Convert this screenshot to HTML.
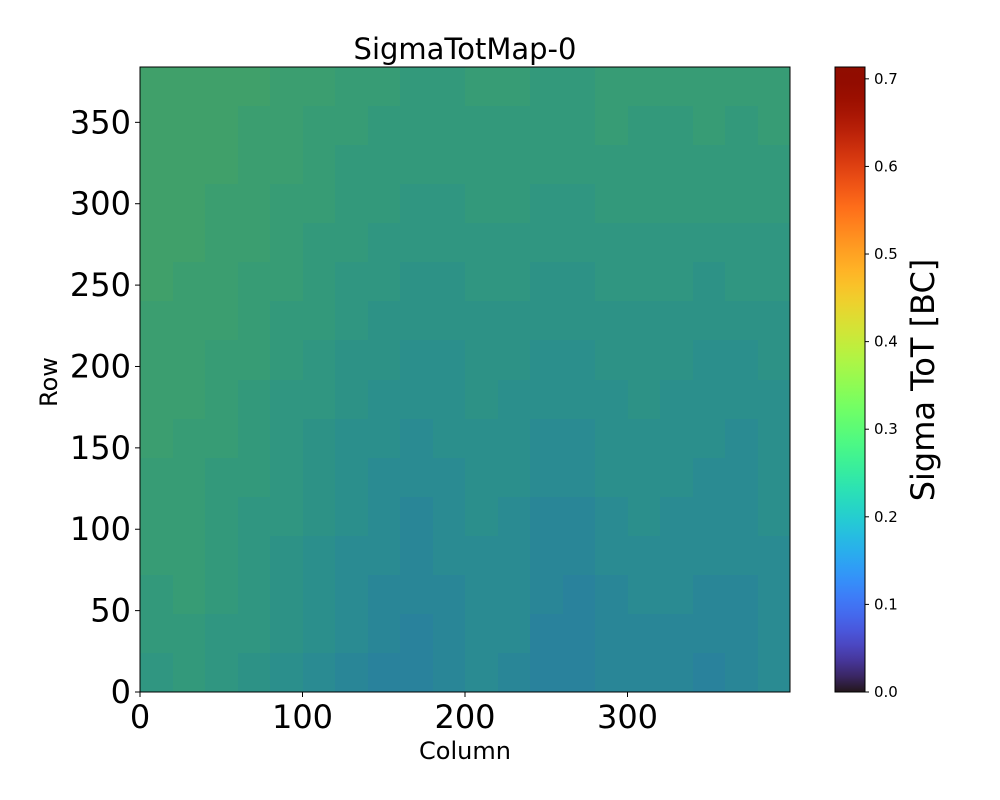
<!DOCTYPE html>
<html><head><meta charset="utf-8"><style>
html,body{margin:0;padding:0;background:#fff;width:1000px;height:800px;overflow:hidden;font-family:"DejaVu Sans","Liberation Sans",sans-serif}
svg text{font-family:"DejaVu Sans","Liberation Sans",sans-serif}
</style></head><body>
<svg id="fig" width="1000" height="800" xmlns="http://www.w3.org/2000/svg"></svg>
<script>
// Estimated block-average Sigma ToT values: 16 row-blocks (bottom->top) x 20 column-blocks
const blockCols = 20, blockRows = 16;
const blockValues = [
[0.24,0.25,0.24,0.23,0.22,0.21,0.20,0.19,0.19,0.20,0.21,0.20,0.19,0.19,0.20,0.20,0.20,0.19,0.20,0.21],
[0.25,0.25,0.24,0.24,0.23,0.22,0.21,0.20,0.19,0.20,0.21,0.21,0.19,0.19,0.20,0.20,0.20,0.20,0.20,0.21],
[0.25,0.26,0.25,0.24,0.23,0.22,0.21,0.20,0.20,0.20,0.21,0.21,0.20,0.19,0.20,0.21,0.21,0.20,0.20,0.21],
[0.26,0.26,0.25,0.24,0.23,0.22,0.21,0.21,0.20,0.21,0.21,0.21,0.20,0.20,0.21,0.21,0.21,0.21,0.21,0.21],
[0.26,0.26,0.25,0.24,0.24,0.23,0.22,0.21,0.20,0.21,0.22,0.21,0.20,0.20,0.21,0.22,0.21,0.21,0.21,0.22],
[0.26,0.26,0.25,0.25,0.24,0.23,0.22,0.21,0.21,0.21,0.22,0.22,0.21,0.21,0.22,0.22,0.22,0.21,0.21,0.22],
[0.27,0.26,0.26,0.25,0.24,0.23,0.22,0.22,0.21,0.22,0.22,0.22,0.21,0.21,0.22,0.22,0.22,0.22,0.21,0.22],
[0.27,0.27,0.26,0.25,0.24,0.24,0.23,0.22,0.22,0.22,0.23,0.22,0.22,0.22,0.22,0.23,0.22,0.22,0.22,0.22],
[0.27,0.27,0.26,0.26,0.25,0.24,0.23,0.23,0.22,0.22,0.23,0.23,0.22,0.22,0.23,0.23,0.23,0.22,0.22,0.23],
[0.27,0.27,0.27,0.26,0.25,0.25,0.24,0.23,0.23,0.23,0.23,0.23,0.23,0.23,0.23,0.23,0.23,0.23,0.23,0.23],
[0.28,0.27,0.27,0.26,0.26,0.25,0.24,0.24,0.23,0.23,0.24,0.24,0.23,0.23,0.24,0.24,0.24,0.23,0.24,0.24],
[0.28,0.28,0.27,0.27,0.26,0.25,0.25,0.24,0.24,0.24,0.24,0.24,0.24,0.24,0.24,0.24,0.24,0.24,0.24,0.24],
[0.28,0.28,0.27,0.27,0.26,0.26,0.25,0.25,0.24,0.24,0.25,0.25,0.24,0.24,0.25,0.25,0.25,0.25,0.25,0.25],
[0.28,0.28,0.28,0.27,0.27,0.26,0.25,0.25,0.25,0.25,0.25,0.25,0.25,0.25,0.25,0.25,0.25,0.25,0.25,0.25],
[0.28,0.28,0.28,0.27,0.27,0.26,0.26,0.25,0.25,0.25,0.25,0.25,0.25,0.25,0.26,0.25,0.25,0.26,0.25,0.26],
[0.28,0.28,0.28,0.28,0.27,0.27,0.26,0.26,0.25,0.25,0.26,0.26,0.25,0.25,0.26,0.26,0.26,0.26,0.26,0.26]
];
const xTicks = [0,100,200,300];
const yTicks = [0,50,100,150,200,250,300,350];
const cbTicks = [0.0,0.1,0.2,0.3,0.4,0.5,0.6,0.7];
const nCols = 400, nRows = 384, vMax = 0.7135;

const NS = "http://www.w3.org/2000/svg";
const svg = document.getElementById('fig');
const P = {l:140, r:790, t:67, b:692};
const CB = {l:835, r:865};
const xs = c => P.l + c/nCols*(P.r-P.l);
const ys = r => P.b - r/nRows*(P.b-P.t);
const cs = v => P.b - v/vMax*(P.b-P.t);
function el(tag, attrs, parent){const e=document.createElementNS(NS,tag);for(const k in attrs)e.setAttribute(k,attrs[k]);(parent||svg).appendChild(e);return e;}
function turboRGB(x){x=Math.max(0,Math.min(1,x));
 const r=0.13572138+x*(4.61539260+x*(-42.66032258+x*(132.13108234+x*(-152.94239396+x*59.28637943))));
 const g=0.09140261+x*(2.19418839+x*(4.84296658+x*(-14.18503333+x*(4.27729857+x*2.82956604))));
 const b=0.10667330+x*(12.64194608+x*(-60.58204836+x*(110.36276771+x*(-89.90310912+x*27.34824973))));
 return [r,g,b].map(v=>Math.max(0,Math.min(1,v))*255);}
function turbo(x){const c=turboRGB(x).map(Math.round);return `rgb(${c[0]},${c[1]},${c[2]})`;}
function muted(x){const c=turboRGB(x), base=[48,18,59], a=0.62;
 const m=c.map((v,i)=>Math.round(v*a+base[i]*(1-a)));return `rgb(${m[0]},${m[1]},${m[2]})`;}

const hm = el('g',{'shape-rendering':'crispEdges'});


const cw = nCols/blockCols, rh = nRows/blockRows;
blockValues.forEach((row,ri)=>row.forEach((v,ci)=>{
  const x0=Math.round(xs(ci*cw)), x1=Math.round(xs((ci+1)*cw)), y1=Math.round(ys(ri*rh)), y0=Math.round(ys((ri+1)*rh));
  const r = el('rect',{x:x0,y:y0,width:x1-x0,height:y1-y0,fill:muted(v/vMax)},hm);
  
  
}));
const frame = el('rect',{x:P.l,y:P.t,width:P.r-P.l,height:P.b-P.t,fill:'none',stroke:'#000','stroke-width':1});



xTicks.forEach(t=>{const x=xs(t);
  el('line',{x1:x,x2:x,y1:P.b,y2:P.b+5,stroke:'#000'});
  const tx=el('text',{x:x,y:P.b+36,'font-size':32,'text-anchor':'middle'});tx.textContent=t;
  
  
});
yTicks.forEach(t=>{const y=ys(t);
  el('line',{x1:P.l-5,x2:P.l,y1:y,y2:y,stroke:'#000'});
  const tx=el('text',{x:P.l-9,y:y+11,'font-size':32,'text-anchor':'end'});tx.textContent=t;
  
  
});
let t;
t=el('text',{x:465,y:759,'font-size':24,'text-anchor':'middle'});t.textContent='Column';


t=el('text',{x:57,y:382,'font-size':24,'text-anchor':'middle',transform:'rotate(-90 57 382)'});t.textContent='Row';


t=el('text',{x:465,y:59,'font-size':29,'text-anchor':'middle'});t.textContent='SigmaTotMap-0';



const defs=el('defs',{});
const grad=el('linearGradient',{id:'cbg',x1:0,y1:1,x2:0,y2:0},defs);
for(let i=0;i<=40;i++){el('stop',{offset:(i/40),'stop-color':turbo(i/40)},grad);}
const cb=el('rect',{x:CB.l,y:P.t,width:CB.r-CB.l,height:P.b-P.t,fill:'url(#cbg)',stroke:'#000','stroke-width':1});


cbTicks.forEach(v=>{const y=cs(v);
  el('line',{x1:CB.r,x2:CB.r+4,y1:y,y2:y,stroke:'#000'});
  const tx=el('text',{x:CB.r+9,y:y+5,'font-size':15});tx.textContent=v.toFixed(1);
  
  
});
t=el('text',{x:934,y:380,'font-size':32,'text-anchor':'middle',transform:'rotate(-90 934 380)'});t.textContent='Sigma ToT [BC]';


</script>
</body></html>
